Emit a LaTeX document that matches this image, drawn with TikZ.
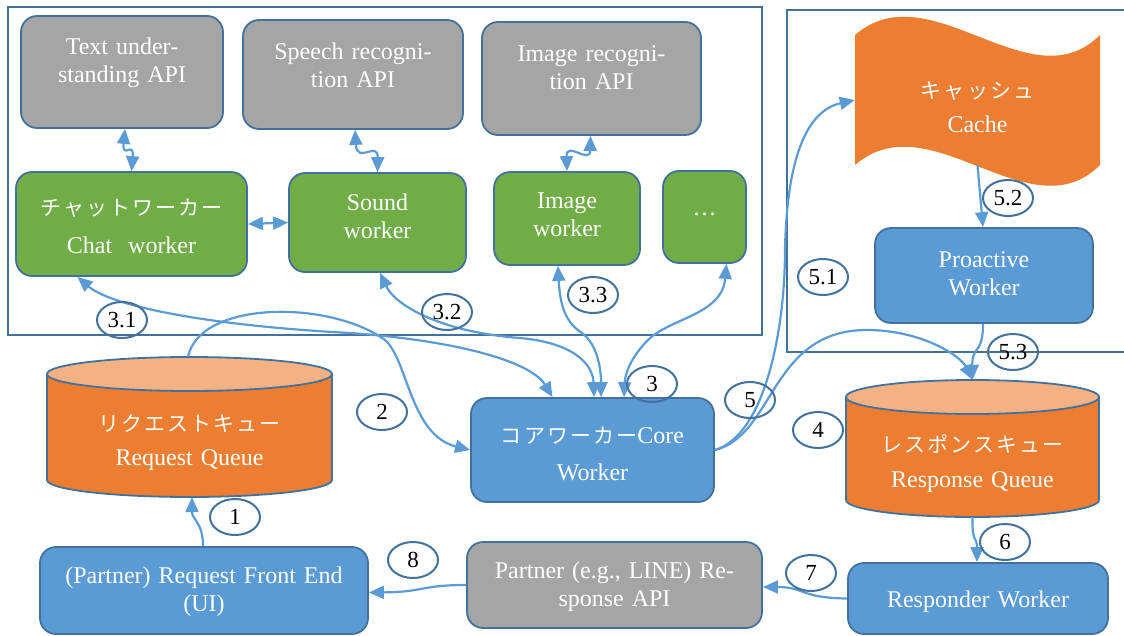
\documentclass[tikz,border=0pt]{standalone}
\usepackage{fontspec}
\setmainfont{Liberation Serif}
\newfontfamily\jpfont[LetterSpace=10]{Noto Sans CJK JP}
\usetikzlibrary{arrows.meta,shapes.geometric}
\definecolor{boxblue}{HTML}{5B9BD5}
\definecolor{edgeblue}{HTML}{41719C}
\definecolor{boxgreen}{HTML}{70AD47}
\definecolor{boxgray}{HTML}{A5A5A5}
\definecolor{qorange}{HTML}{ED7D31}
\definecolor{qtop}{HTML}{F4B183}
\newcommand\boxfont{\fontsize{24}{28}\selectfont}
\newcommand\numfont{\fontsize{23}{26}\selectfont}
\newcommand\jtext[1]{{\jpfont\fontsize{21}{28}\selectfont #1}}
\tikzset{
  basebox/.style={draw=edgeblue, line width=1.8pt, rounded corners=16pt, text=white, align=center, font=\boxfont, inner sep=0pt},
  bluebox/.style={basebox, fill=boxblue},
  greenbox/.style={basebox, fill=boxgreen},
  graybox/.style={basebox, fill=boxgray},
  holder/.style={inner sep=0pt, text=white, align=center, font=\boxfont},
  tb/.style 2 args={text height=#1pt, text depth=#2pt},
  numlabel/.style={ellipse, draw=edgeblue, line width=2pt, minimum width=50pt, minimum height=36pt, inner sep=0pt, font=\numfont},
  flow/.style={draw=boxblue, line width=2.2pt, -{Triangle[length=15pt,width=13pt]}},
  biflow/.style={flow, {Triangle[length=15pt,width=13pt]}-{Triangle[length=15pt,width=13pt]}},
}
\begin{document}
\begin{tikzpicture}[x=1pt,y=-1pt]
\useasboundingbox (0,0) rectangle (1124,635);
\draw[edgeblue, line width=1.8pt] (8,7) rectangle (762,335);
\draw[edgeblue, line width=1.8pt] (787,10) rectangle (1140,352);
\fill[qorange] (855,35) .. controls (930,-30) and (1030,105) .. (1100,35) -- (1100,165) .. controls (1030,235) and (930,100) .. (855,165) -- cycle;
\filldraw[fill=qorange, draw=edgeblue, line width=1.8pt] (47,374) -- (47,480) arc[start angle=180, end angle=360, x radius=142.5pt, y radius=17pt] -- (332,374);
\filldraw[fill=qtop, draw=edgeblue, line width=1.8pt] (189.5,374) ellipse[x radius=142.5pt, y radius=17pt];
\filldraw[fill=qorange, draw=edgeblue, line width=1.8pt] (846,397) -- (846,500) arc[start angle=180, end angle=360, x radius=126.5pt, y radius=17pt] -- (1099,397);
\filldraw[fill=qtop, draw=edgeblue, line width=1.8pt] (972.5,397) ellipse[x radius=126.5pt, y radius=17pt];

\node[graybox, tb={6}{42}, minimum width=202pt, minimum height=112pt, text width=190pt] (tapi) at (122,72) {Text under-\\standing API};
\node[graybox, tb={6}{37}, minimum width=220pt, minimum height=109pt, text width=205pt] (sapi) at (353,74.5) {Speech recogni-\\tion API};
\node[graybox, tb={6}{41}, minimum width=219pt, minimum height=113pt, text width=205pt] (iapi) at (591.5,78.5) {Image recogni-\\tion API};
\node[greenbox, tb={6}{23}, minimum width=231pt, minimum height=104pt, text width=220pt] (chatw) at (131.5,224) {\jtext{チャットワーカー}\\[9.5pt]Chat\ \ worker};
\node[greenbox, tb={6}{31}, minimum width=177pt, minimum height=99pt, text width=165pt] (soundw) at (377.5,222.5) {Sound\\worker};
\node[greenbox, tb={6}{27}, minimum width=146pt, minimum height=93pt, text width=135pt] (imagew) at (567,218.5) {Image\\worker};
\node[greenbox, tb={6}{10}, minimum width=83pt, minimum height=92pt, text width=70pt] (morew) at (704.5,217) {…};
\node[bluebox, tb={6}{23}, minimum width=218pt, minimum height=95pt, text width=205pt] (proactive) at (984,275.5) {Proactive\\Worker};
\node[bluebox, tb={6}{20}, minimum width=243pt, minimum height=104pt, text width=230pt] (core) at (592.5,450) {\jtext{コアワーカー}Core\\[9pt]Worker};
\node[bluebox, tb={6}{21}, minimum width=328pt, minimum height=87pt, text width=318pt] (front) at (204,590.5) {(Partner) Request Front End\\(UI)};
\node[graybox, tb={6}{20}, minimum width=295pt, minimum height=86pt, text width=280pt] (partner) at (614.5,585) {Partner (e.g., LINE) Re-\\sponse API};
\node[bluebox, tb={20}{3}, minimum width=260pt, minimum height=71pt, text width=250pt] (responder) at (978,598.5) {Responder Worker};
\node[holder, tb={20}{11}, minimum width=285pt, minimum height=140pt, text width=270pt] (reqq) at (189.5,427) {\jtext{リクエストキュー}\\[5.5pt]Request Queue};
\node[holder, tb={20}{12}, minimum width=253pt, minimum height=137pt, text width=240pt] (resq) at (972.5,448.5) {\jtext{レスポンスキュー}\\[6.5pt]Response Queue};
\node[holder, tb={6}{10}, minimum width=245pt, minimum height=130pt, text width=230pt] (cache) at (977.5,100) {\jtext{キャッシュ}\\[6pt]Cache};

\draw[biflow] ([xshift=3pt]tapi.south) .. controls (122,160) and (134,140) .. (chatw.north);
\draw[biflow] ([xshift=2pt]sapi.south) .. controls (357,165) and (378,140) .. (soundw.north);
\draw[biflow] ([xshift=-1pt]iapi.south) .. controls (590,165) and (566,140) .. (imagew.north);
\draw[biflow] (chatw.east) -- (soundw.west);
\draw[biflow] ([xshift=-54pt]chatw.south) .. controls (110,305) and (200,325) .. (350,333) .. controls (450,340) and (530,360) .. ([xshift=-40pt]core.north);
\draw[biflow] ([xshift=2.5pt]soundw.south) .. controls (395,305) and (440,332) .. (520,338) .. controls (575,343) and (593,365) .. ([xshift=1.5pt]core.north);
\draw[biflow] ([xshift=-9pt]imagew.south) .. controls (560,305) and (565,322) .. (582,333) .. controls (598,345) and (601,370) .. ([xshift=8.5pt]core.north);
\draw[biflow] ([xshift=22pt]morew.south) .. controls (722,315) and (670,318) .. (648,340) .. controls (630,358) and (625,375) .. ([xshift=31.5pt]core.north);
\draw[flow] ([xshift=-1.5pt]reqq.north) .. controls (200,300) and (330,300) .. (385,340) .. controls (408,360) and (410,435) .. (core.west);
\draw[flow] ([xshift=-1pt]front.north) .. controls (203,522) and (192,520) .. ([xshift=2.5pt]reqq.south);
\draw[flow] (partner.west) .. controls (420,585) and (425,592) .. ([yshift=-2pt]front.east);
\draw[flow] (responder.west) .. controls (800,598) and (805,587) .. ([yshift=-2pt]partner.east);
\draw[flow] (resq.south) .. controls (972,545) and (977,535) .. ([xshift=-1pt]responder.north);
\draw[flow] ([xshift=-1pt]proactive.south) .. controls (983,355) and (972,345) .. (resq.north);
\draw[flow] (cache.south) -- ([xshift=-1pt]proactive.north);
\draw[flow] (core.east) .. controls (765,435) and (785,330) .. (785,250) .. controls (787,150) and (810,110) .. (cache.west);
\draw[flow] (core.east) .. controls (775,435) and (770,330) .. (867,330) .. controls (920,330) and (960,355) .. (resq.north);

\node[numlabel] (n1) at (235,517) {1};
\node[numlabel] (n2) at (382,412) {2};
\node[numlabel] (n3) at (652,384) {3};
\node[numlabel] (n31) at (122,320) {3.1};
\node[numlabel] (n32) at (447,312) {3.2};
\node[numlabel] (n33) at (593,295) {3.3};
\node[numlabel] (n4) at (818,430) {4};
\node[numlabel] (n5) at (750,400) {5};
\node[numlabel] (n51) at (823,277) {5.1};
\node[numlabel] (n52) at (1008,198) {5.2};
\node[numlabel] (n53) at (1013,352) {5.3};
\node[numlabel] (n6) at (1005,542) {6};
\node[numlabel] (n7) at (811,573) {7};
\node[numlabel] (n8) at (413,560) {8};
\end{tikzpicture}
\end{document}
